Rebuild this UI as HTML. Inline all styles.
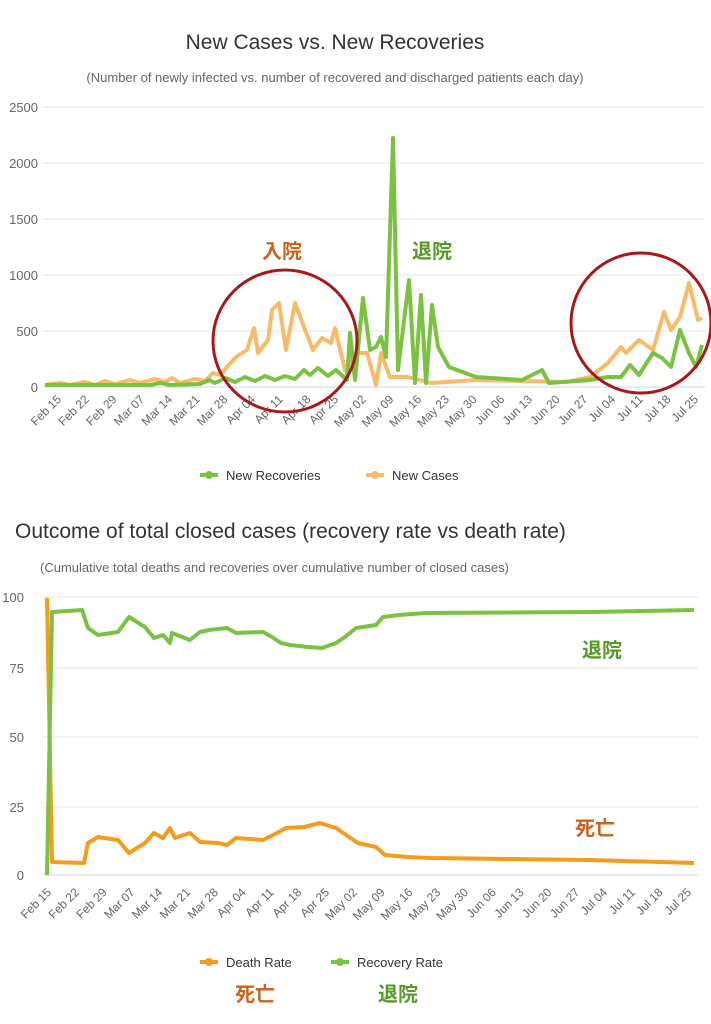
<!DOCTYPE html>
<html><head><meta charset="utf-8"><style>
html,body{margin:0;padding:0;background:#fff;}
svg{display:block;font-family:"Liberation Sans","Noto Sans CJK JP",sans-serif;}
</style></head><body>
<svg width="711" height="1024" viewBox="0 0 711 1024" xmlns="http://www.w3.org/2000/svg">
<text x="335" y="49" font-size="21" text-anchor="middle" fill="#333">New Cases vs. New Recoveries</text>
<text x="335" y="82" font-size="13" text-anchor="middle" fill="#666">(Number of newly infected vs. number of recovered and discharged patients each day)</text>
<g stroke="#e6e6e6" stroke-width="1">
<line x1="42" x2="705" y1="107" y2="107"/><line x1="42" x2="705" y1="163" y2="163"/><line x1="42" x2="705" y1="219" y2="219"/><line x1="42" x2="705" y1="275" y2="275"/><line x1="42" x2="705" y1="331" y2="331"/><line x1="42" x2="705" y1="387" y2="387" stroke="#ccd6eb"/>
</g>
<g font-size="13" fill="#666" text-anchor="end">
<text x="38" y="112">2500</text><text x="38" y="168">2000</text><text x="38" y="224">1500</text><text x="38" y="280">1000</text><text x="38" y="336">500</text><text x="38" y="392">0</text>
</g>
<g font-size="12" fill="#666" text-anchor="end">
<text transform="translate(62,400) rotate(-45)">Feb 15</text>
<text transform="translate(89.7,400) rotate(-45)">Feb 22</text>
<text transform="translate(117.4,400) rotate(-45)">Feb 29</text>
<text transform="translate(145.1,400) rotate(-45)">Mar 07</text>
<text transform="translate(172.8,400) rotate(-45)">Mar 14</text>
<text transform="translate(200.5,400) rotate(-45)">Mar 21</text>
<text transform="translate(228.2,400) rotate(-45)">Mar 28</text>
<text transform="translate(255.9,400) rotate(-45)">Apr 04</text>
<text transform="translate(283.6,400) rotate(-45)">Apr 11</text>
<text transform="translate(311.3,400) rotate(-45)">Apr 18</text>
<text transform="translate(339,400) rotate(-45)">Apr 25</text>
<text transform="translate(366.7,400) rotate(-45)">May 02</text>
<text transform="translate(394.4,400) rotate(-45)">May 09</text>
<text transform="translate(422.1,400) rotate(-45)">May 16</text>
<text transform="translate(449.8,400) rotate(-45)">May 23</text>
<text transform="translate(477.5,400) rotate(-45)">May 30</text>
<text transform="translate(505.2,400) rotate(-45)">Jun 06</text>
<text transform="translate(532.9,400) rotate(-45)">Jun 13</text>
<text transform="translate(560.6,400) rotate(-45)">Jun 20</text>
<text transform="translate(588.3,400) rotate(-45)">Jun 27</text>
<text transform="translate(616,400) rotate(-45)">Jul 04</text>
<text transform="translate(643.7,400) rotate(-45)">Jul 11</text>
<text transform="translate(671.4,400) rotate(-45)">Jul 18</text>
<text transform="translate(699,400) rotate(-45)">Jul 25</text>
</g>
<polyline fill="none" stroke="#f8bb6a" stroke-width="4" stroke-linejoin="round" points="45,385 60,383 70,385 85,382 95,385 105,381 115,384 130,380 140,383 155,379 165,382 172,378 180,383 195,379 205,381 209,377 213,373 220,375 227,367 236,357 247,350 254,328 258,353 268,340 272,310 279,303 286,350 295,303 304,327 313,350 322,338 331,343 335,328 345,370 358,353 367,353 376,385 381,353 390,377 408,377 431,383 476,380 567,382 590,377 608,363 621,347 626,353 639,340 653,350 664,312 671,330 680,317 689,283 698,320 702,318"/>
<polyline fill="none" stroke="#7cc242" stroke-width="4" stroke-linejoin="round" points="45,385 150,385 160,383 170,385 200,384 209,380 215,383 225,378 235,382 245,377 255,381 265,376 275,380 285,376 295,379 304,370 310,375 318,368 328,376 336,370 347,380 350,333 355,380 363,298 370,350 376,347 381,337 386,357 393,138 398,370 409,280 415,383 421,295 426,383 432,305 438,347 449,367 476,377 522,380 542,370 549,383 590,380 608,377 621,377 630,365 639,375 653,353 662,358 671,367 680,330 689,353 696,367 702,345"/>
<ellipse cx="285" cy="341" rx="72" ry="71" fill="none" stroke="#a81818" stroke-width="3"/>
<ellipse cx="641" cy="323" rx="70" ry="70" fill="none" stroke="#a81818" stroke-width="3"/>
<text x="262" y="258" font-size="20" font-weight="bold" fill="#c8641e">入院</text>
<text x="412" y="258" font-size="20" font-weight="bold" fill="#5a9a2a">退院</text>
<line x1="200" x2="218" y1="475" y2="475" stroke="#7cc242" stroke-width="4"/><circle cx="209" cy="475" r="4" fill="#7cc242"/>
<text x="226" y="480" font-size="13" fill="#333">New Recoveries</text>
<line x1="366" x2="384" y1="475" y2="475" stroke="#f8bb6a" stroke-width="4"/><circle cx="375" cy="475" r="4" fill="#f8bb6a"/>
<text x="392" y="480" font-size="13" fill="#333">New Cases</text>

<text x="15" y="538" font-size="21" fill="#333">Outcome of total closed cases (recovery rate vs death rate)</text>
<text x="40" y="572" font-size="13" fill="#666">(Cumulative total deaths and recoveries over cumulative number of closed cases)</text>
<g stroke="#e6e6e6" stroke-width="1">
<line x1="42" x2="698" y1="597" y2="597"/><line x1="42" x2="698" y1="668" y2="668"/><line x1="42" x2="698" y1="737" y2="737"/><line x1="42" x2="698" y1="807" y2="807"/><line x1="42" x2="698" y1="875" y2="875" stroke="#ccd6eb"/>
</g>
<g font-size="13" fill="#666" text-anchor="end">
<text x="24" y="602">100</text><text x="24" y="673">75</text><text x="24" y="742">50</text><text x="24" y="812">25</text><text x="24" y="880">0</text>
</g>
<g font-size="12" fill="#666" text-anchor="end">
<text transform="translate(52,893) rotate(-45)">Feb 15</text>
<text transform="translate(79.8,893) rotate(-45)">Feb 22</text>
<text transform="translate(107.6,893) rotate(-45)">Feb 29</text>
<text transform="translate(135.4,893) rotate(-45)">Mar 07</text>
<text transform="translate(163.2,893) rotate(-45)">Mar 14</text>
<text transform="translate(191,893) rotate(-45)">Mar 21</text>
<text transform="translate(218.8,893) rotate(-45)">Mar 28</text>
<text transform="translate(246.6,893) rotate(-45)">Apr 04</text>
<text transform="translate(274.4,893) rotate(-45)">Apr 11</text>
<text transform="translate(302.2,893) rotate(-45)">Apr 18</text>
<text transform="translate(330,893) rotate(-45)">Apr 25</text>
<text transform="translate(357.8,893) rotate(-45)">May 02</text>
<text transform="translate(385.6,893) rotate(-45)">May 09</text>
<text transform="translate(413.4,893) rotate(-45)">May 16</text>
<text transform="translate(441.2,893) rotate(-45)">May 23</text>
<text transform="translate(469,893) rotate(-45)">May 30</text>
<text transform="translate(496.8,893) rotate(-45)">Jun 06</text>
<text transform="translate(524.6,893) rotate(-45)">Jun 13</text>
<text transform="translate(552.4,893) rotate(-45)">Jun 20</text>
<text transform="translate(580.2,893) rotate(-45)">Jun 27</text>
<text transform="translate(608,893) rotate(-45)">Jul 04</text>
<text transform="translate(635.8,893) rotate(-45)">Jul 11</text>
<text transform="translate(663.6,893) rotate(-45)">Jul 18</text>
<text transform="translate(692,893) rotate(-45)">Jul 25</text>
</g>
<polyline fill="none" stroke="#f39c1e" stroke-width="4" stroke-linejoin="round" points="47,598 52,862 84,863 88,843 98,837 118,840 129,853 145,843 154,833 163,838 170,828 175,838 190,833 200,842 218,843 227,845 236,838 263,840 277,833 286,828 304,827 320,823 336,828 349,837 358,843 376,847 385,855 408,857 431,858 590,860 694,863"/>
<polyline fill="none" stroke="#7cc242" stroke-width="4" stroke-linejoin="round" points="47,875 52,612 82,610 88,628 98,635 118,632 129,617 145,627 154,638 163,635 170,643 172,633 190,640 200,632 209,630 227,628 236,633 263,632 272,637 281,643 290,645 308,647 322,648 336,643 345,637 356,628 376,625 383,617 399,615 426,613 590,612 694,610"/>
<text x="582" y="657" font-size="20" font-weight="bold" fill="#5a9a2a">退院</text>
<text x="575" y="835" font-size="20" font-weight="bold" fill="#c8641e">死亡</text>
<line x1="200" x2="218" y1="962" y2="962" stroke="#f39c1e" stroke-width="4"/><circle cx="209" cy="962" r="4" fill="#f39c1e"/>
<text x="226" y="967" font-size="13" fill="#333">Death Rate</text>
<line x1="331" x2="349" y1="962" y2="962" stroke="#7cc242" stroke-width="4"/><circle cx="340" cy="962" r="4" fill="#7cc242"/>
<text x="357" y="967" font-size="13" fill="#333">Recovery Rate</text>
<text x="235" y="1001" font-size="20" font-weight="bold" fill="#c8641e">死亡</text>
<text x="378" y="1001" font-size="20" font-weight="bold" fill="#5a9a2a">退院</text>
</svg>
</body></html>
